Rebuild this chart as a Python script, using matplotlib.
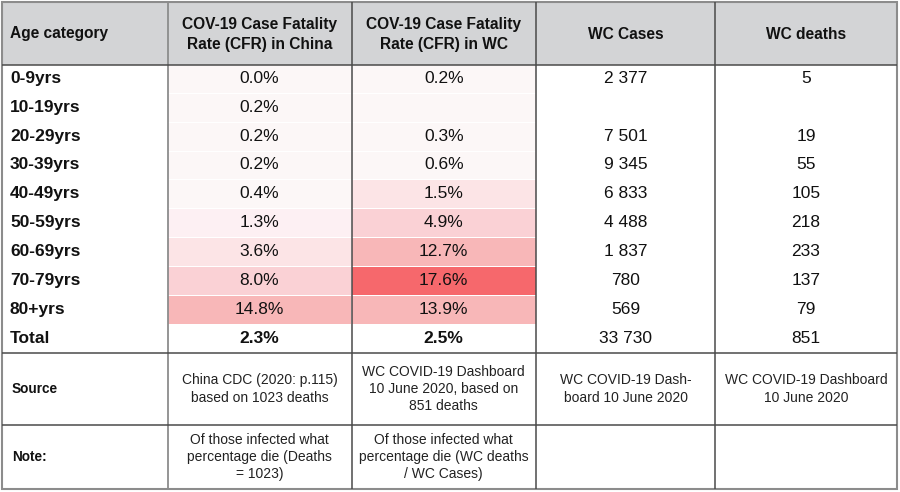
"""
COVID-19 case fatality rate table: China vs Western Cape
"""

import matplotlib.pyplot as plt
from matplotlib.patches import Rectangle
from matplotlib.colors import ListedColormap, BoundaryNorm

plt.rcParams['font.family'] = ['Liberation Sans', 'DejaVu Sans']

# Table content
headers = ["Age category",
           "COV-19 Case Fatality\nRate (CFR) in China",
           "COV-19 Case Fatality\nRate (CFR) in WC",
           "WC Cases",
           "WC deaths"]
age_groups = ["0-9yrs", "10-19yrs", "20-29yrs", "30-39yrs", "40-49yrs",
              "50-59yrs", "60-69yrs", "70-79yrs", "80+yrs"]
cfr_china = [0.0, 0.2, 0.2, 0.2, 0.4, 1.3, 3.6, 8.0, 14.8]
cfr_wc = [0.2, None, 0.3, 0.6, 1.5, 4.9, 12.7, 17.6, 13.9]
wc_cases = ["2 377", "", "7 501", "9 345", "6 833", "4 488", "1 837", "780", "569"]
wc_deaths = ["5", "", "19", "55", "105", "218", "233", "137", "79"]
total_row = ["Total", "2.3%", "2.5%", "33 730", "851"]
source_row = ["Source",
              "China CDC (2020: p.115)\nbased on 1023 deaths",
              "WC COVID-19 Dashboard\n10 June 2020, based on\n851 deaths",
              "WC COVID-19 Dash-\nboard 10 June 2020",
              "WC COVID-19 Dashboard\n10 June 2020"]
note_row = ["Note:",
            "Of those infected what\npercentage die (Deaths\n= 1023)",
            "Of those infected what\npercentage die (WC deaths\n/ WC Cases)",
            "", ""]

# Layout in pixel coordinates
col_edges = [2, 167.5, 351.5, 536, 715, 897]
header_top, header_bottom = 2, 64.5
row_h = 28.85
total_bottom = header_bottom + row_h * (len(age_groups) + 1)
source_bottom = 425
note_bottom = 489
body_size = 12.5
small_size = 10
ink = "#111111"

# Conditional formatting of the CFR cells
shade_cmap = ListedColormap(["#fcf7f7", "#fdf0f3", "#fce4e6", "#fad1d5", "#f8b7b8", "#f6686c"])
shade_norm = BoundaryNorm([0, 1, 1.4, 4, 10, 15, 100], shade_cmap.N)

fig = plt.figure(figsize=(9, 4.92), dpi=100)
ax = fig.add_axes([0, 0, 1, 1])
ax.set_xlim(0, 900)
ax.set_ylim(492, 0)
ax.axis('off')

centres = [(col_edges[i] + col_edges[i + 1]) / 2 for i in range(len(col_edges) - 1)]

# Header background
ax.add_patch(Rectangle((col_edges[0], header_top), col_edges[-1] - col_edges[0],
                       header_bottom - header_top, facecolor="#d3d4d6", edgecolor="none"))
ax.text(10, (header_top + header_bottom) / 2, headers[0], ha='left', va='center',
        fontsize=11.2, fontweight='bold', color=ink)
for i in range(1, len(headers)):
    ax.text(centres[i], (header_top + header_bottom) / 2 + 1, headers[i], ha='center', va='center',
            fontsize=11.2, fontweight='bold', color=ink, linespacing=1.4)

# Data rows (text sits a touch above the cell centre, as in the source)
for r, age in enumerate(age_groups):
    y0 = header_bottom + r * row_h
    yc = y0 + row_h / 2 - 0.5
    for c, vals in ((1, cfr_china), (2, cfr_wc)):
        v = vals[r]
        shade = shade_cmap(shade_norm(v if v is not None else 0))
        ax.add_patch(Rectangle((col_edges[c] + 0.5, y0 + 0.5), col_edges[c + 1] - col_edges[c] - 1,
                               row_h - 1, facecolor=shade, edgecolor="none"))
        if v is not None:
            ax.text(centres[c], yc, f"{v:.1f}%", ha='center', va='center', fontsize=body_size, color=ink)
    ax.text(10, yc, age, ha='left', va='center', fontsize=body_size, fontweight='bold', color=ink)
    ax.text(centres[3], yc, wc_cases[r], ha='center', va='center', fontsize=body_size, color=ink)
    ax.text(centres[4], yc, wc_deaths[r], ha='center', va='center', fontsize=body_size, color=ink)

# Total row
yc = total_bottom - row_h / 2
ax.text(10, yc, total_row[0], ha='left', va='center', fontsize=body_size, fontweight='bold', color=ink)
ax.text(centres[1], yc, total_row[1], ha='center', va='center', fontsize=body_size, fontweight='bold', color=ink)
ax.text(centres[2], yc, total_row[2], ha='center', va='center', fontsize=body_size, fontweight='bold', color=ink)
ax.text(centres[3], yc, total_row[3], ha='center', va='center', fontsize=body_size, color=ink)
ax.text(centres[4], yc, total_row[4], ha='center', va='center', fontsize=body_size, color=ink)

# Source and note rows
for row, top, bottom in ((source_row, total_bottom, source_bottom), (note_row, source_bottom, note_bottom)):
    yc = (top + bottom) / 2
    ax.text(12, yc, row[0], ha='left', va='center', fontsize=9.8, fontweight='bold', color=ink)
    for i in range(1, len(row)):
        ax.text(centres[i], yc, row[i], ha='center', va='center', fontsize=small_size,
                color="#222222", linespacing=1.3)

# Grid lines
dark = "#4a4a4a"
light = "#8c8c8c"
for x in col_edges[2:-1]:
    ax.plot([x, x], [header_top, note_bottom], color=dark, lw=1.1, solid_capstyle='butt')
ax.plot([col_edges[1]] * 2, [header_top, note_bottom], color=light, lw=1.3, solid_capstyle='butt')
for y in (header_bottom, total_bottom, source_bottom):
    ax.plot([col_edges[0], col_edges[-1]], [y, y], color=dark, lw=1.1, solid_capstyle='butt')

# Outer border
ax.add_patch(Rectangle((col_edges[0], header_top), col_edges[-1] - col_edges[0],
                       note_bottom - header_top, facecolor="none", edgecolor=light, lw=1.5))

fig.savefig("out.png", dpi=100)
plt.close(fig)
